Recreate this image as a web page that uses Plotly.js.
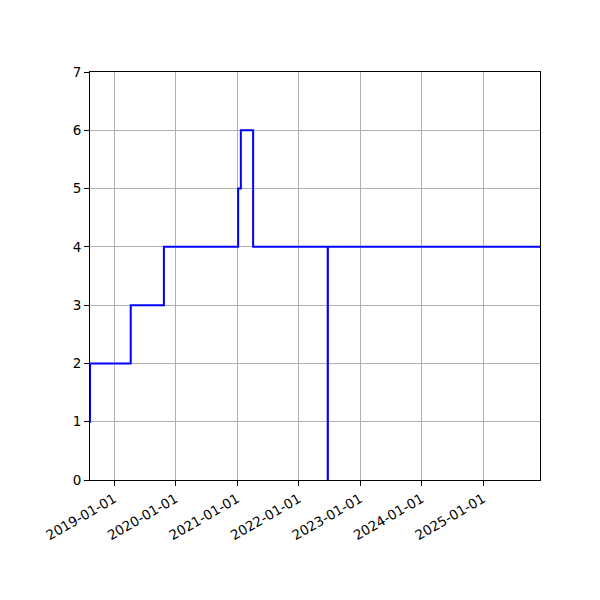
<!DOCTYPE html>
<html>
<head>
<meta charset="utf-8">
<script src="https://cdn.plot.ly/plotly-3.0.1.min.js"></script>
<style>html,body{margin:0;padding:0;background:#fff}#chart{width:600px;height:600px}</style>
</head>
<body>
<div id="chart"></div>
<script>
const dates = ['2018-08-10','2018-08-11','2019-04-10','2019-10-24','2021-01-07','2021-01-23','2021-04-06','2022-06-23','2022-06-24','2025-12-05'];
const values = [1,2,3,4,5,6,4,0,4,4];
const tickDates = ['2019-01-01','2020-01-01','2021-01-01','2022-01-01','2023-01-01','2024-01-01','2025-01-01'];
const tickLabels = tickDates.slice();
const xRange = ['2018-08-11','2025-12-05'];
const yTicks = [0,1,2,3,4,5,6,7];

const trace = {
  x: dates, y: values, type: 'scatter', mode: 'lines',
  line: {shape: 'hv', color: '#0000ff', width: 2},
  hoverinfo: 'skip'
};
const axisCommon = {
  showline: true, linecolor: '#000', linewidth: 1, mirror: true,
  ticks: 'outside', ticklen: 5, tickwidth: 1, tickcolor: '#000',
  showgrid: true, gridcolor: '#b0b0b0', gridwidth: 1, zeroline: false,
  tickfont: {family: 'DejaVu Sans', size: 13.5, color: '#000'}
};
const layout = {
  width: 600, height: 600,
  margin: {l: 90, r: 60, t: 72, b: 120},
  paper_bgcolor: '#fff', plot_bgcolor: '#fff',
  showlegend: false,
  xaxis: Object.assign({}, axisCommon, {
    type: 'date', range: xRange, tickmode: 'array',
    tickvals: tickDates, ticktext: tickLabels, tickangle: -30
  }),
  yaxis: Object.assign({}, axisCommon, {
    range: [0, 7], tickmode: 'array', tickvals: yTicks
  })
};
Plotly.newPlot('chart', [trace], layout, {staticPlot: true});
</script>
</body>
</html>
